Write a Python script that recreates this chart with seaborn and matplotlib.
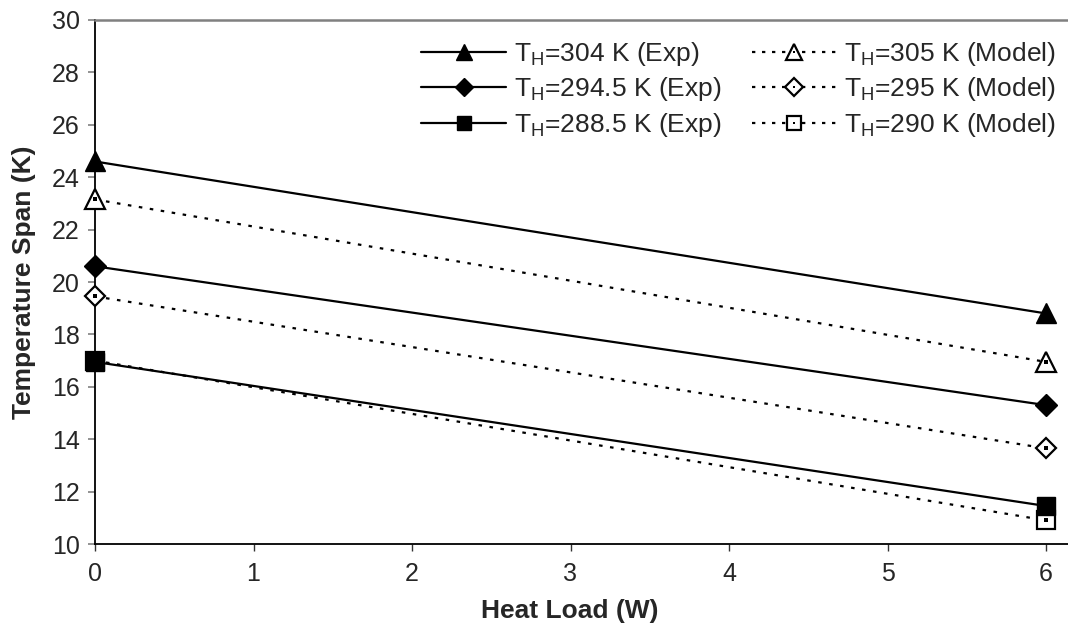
import matplotlib
matplotlib.use("Agg")
import matplotlib.pyplot as plt
import seaborn as sns
import pandas as pd
from matplotlib.lines import Line2D
from matplotlib.legend_handler import HandlerTuple

# Heat load (W) and measured / modelled temperature spans (K)
heat_load = [0, 6]

exp_304 = [24.6, 18.8]
exp_2945 = [20.6, 15.3]
exp_2885 = [16.95, 11.45]

model_305 = [23.15, 16.95]
model_295 = [19.45, 13.65]
model_290 = [17.0, 10.9]

exp_labels = ["304", "294.5", "288.5"]
model_labels = ["305", "295", "290"]

x_ticks = [0, 1, 2, 3, 4, 5, 6]
y_ticks = [10, 12, 14, 16, 18, 20, 22, 24, 26, 28, 30]

sns.set_theme(style="white")
plt.rcParams["font.family"] = ["Liberation Sans", "DejaVu Sans"]
plt.rcParams["mathtext.fontset"] = "custom"
plt.rcParams["mathtext.rm"] = "Liberation Sans"

FS = 18

fig = plt.figure(figsize=(10.68, 6.24), dpi=100)
ax = fig.add_axes([95 / 1068, 1 - 544 / 624, 1 - 95 / 1068, (544 - 20) / 624])

lw = 1.6
dot_style = (0, (1.6, 3.4))
legend_dot_style = (0, (1.5, 3.0))

exp_series = [exp_304, exp_2945, exp_2885]
model_series = [model_305, model_295, model_290]
markers = ["^", "D", "s"]
sizes = [15, 11, 13]

exp_handles = []
model_handles = []

for vals, m, ms in zip(exp_series, markers, sizes):
    df = pd.DataFrame({"Heat Load (W)": heat_load, "Span": vals})
    style = dict(color="black", lw=lw, linestyle="-", marker=m,
                 markerfacecolor="black", markeredgecolor="black",
                 markeredgewidth=1.0)
    sns.lineplot(data=df, x="Heat Load (W)", y="Span", ax=ax, markersize=ms,
                 clip_on=False, zorder=5, **style)
    exp_handles.append(Line2D([], [], markersize=ms * 0.8, **style))

for vals, m, ms in zip(model_series, markers, sizes):
    df = pd.DataFrame({"Heat Load (W)": heat_load, "Span": vals})
    style = dict(color="black", lw=lw, dash_capstyle="butt", marker=m,
                 markerfacecolor="white", markeredgecolor="black",
                 markeredgewidth=1.6)
    sns.lineplot(data=df, x="Heat Load (W)", y="Span", ax=ax,
                 linestyle=dot_style, markersize=ms * 0.97, clip_on=False,
                 zorder=4, **style)
    # small centre dot inside the open markers
    dot = dict(color="black", lw=0, marker="s", markerfacecolor="black",
               markeredgecolor="black", markeredgewidth=0)
    sns.lineplot(data=df, x="Heat Load (W)", y="Span", ax=ax, markersize=2.2,
                 clip_on=False, zorder=4.5, **dot)
    model_handles.append((Line2D([], [], linestyle=legend_dot_style,
                                 markersize=ms * 0.8, **style),
                          Line2D([], [], markersize=2.0, **dot)))

ax.set_xlim(0, 6 * (1068 - 95) / (1046 - 95))
ax.set_ylim(10, 30)
ax.set_xticks(x_ticks)
ax.set_yticks(y_ticks)
ax.set_xticklabels([str(v) for v in x_ticks])
ax.set_yticklabels([str(v) for v in y_ticks])

for side in ["left", "bottom"]:
    ax.spines[side].set_color("black")
    ax.spines[side].set_linewidth(1.3)
ax.spines["top"].set_color("#808080")
ax.spines["top"].set_linewidth(1.8)
ax.spines["right"].set_visible(False)

ax.tick_params(axis="y", which="major", direction="out", length=5, width=1.2,
               color="#808080", labelsize=FS, pad=6, left=True)
ax.tick_params(axis="x", which="major", direction="out", length=5, width=1.0,
               color="#333333", labelsize=FS, pad=8, bottom=True)

ax.set_xlabel("Heat Load (W)", fontsize=19, fontweight="bold", labelpad=4)
ax.set_ylabel("Temperature Span (K)", fontsize=19, fontweight="bold", labelpad=11)
ax.xaxis.set_label_coords((570 - 95) / 973, -0.105)

handles = exp_handles + model_handles
labels = [r"T$_\mathregular{H}$=" + t + " K (Exp)" for t in exp_labels] + \
         [r"T$_\mathregular{H}$=" + t + " K (Model)" for t in model_labels]
ax.legend(handles, labels, ncol=2, loc="upper right",
          bbox_to_anchor=(1.004, 0.992), frameon=False, fontsize=19,
          handlelength=3.2, handletextpad=0.3, columnspacing=1.15,
          labelspacing=0.28, borderpad=0.3, borderaxespad=0.3,
          handler_map={tuple: HandlerTuple(ndivide=1, pad=0)})

fig.savefig("out.png", dpi=100)
